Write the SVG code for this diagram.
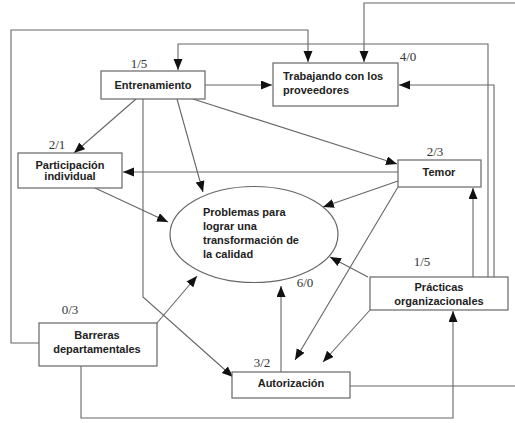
<svg xmlns="http://www.w3.org/2000/svg" width="515" height="423" viewBox="0 0 515 423">
<style>
.box{fill:#fff;stroke:#666;stroke-width:1.2}
.t{font-family:"Liberation Sans",Arial,sans-serif;font-weight:bold;font-size:11px;fill:#222}
.n{font-family:"Liberation Serif","Times New Roman",serif;font-size:13px;fill:#333}
.c path{fill:none;stroke:#666;stroke-width:1.1}
</style>
<defs>
<marker id="a" markerUnits="userSpaceOnUse" markerWidth="12" markerHeight="10" refX="11" refY="4.5" orient="auto">
<path d="M0,0 L11,4.5 L0,9 Z" fill="#111"/>
</marker>
</defs>
<rect width="515" height="423" fill="#fff"/>
<g class="c">
<path d="M39,343 H11 V30 H308 V62" marker-end="url(#a)"/>
<path d="M488,277 V44 H178 V70" marker-end="url(#a)"/>
<path d="M494,277 V85 H399" marker-end="url(#a)"/>
<path d="M515,3 H364 V62" marker-end="url(#a)"/>
<path d="M205,85 H272" marker-end="url(#a)"/>
<path d="M136,99 L74,153" marker-end="url(#a)"/>
<path d="M143,99 V297 L233,377" marker-end="url(#a)"/>
<path d="M177,99 L203,192" marker-end="url(#a)"/>
<path d="M193,99 L397,164" marker-end="url(#a)"/>
<path d="M398,172 H123" marker-end="url(#a)"/>
<path d="M398,181 L323,207" marker-end="url(#a)"/>
<path d="M398,187 L295,360" marker-end="url(#a)"/>
<path d="M95,188 L168,222" marker-end="url(#a)"/>
<path d="M157,323 L197,276" marker-end="url(#a)"/>
<path d="M81,366 V418 H453 V311" marker-end="url(#a)"/>
<path d="M368,277 L330,257" marker-end="url(#a)"/>
<path d="M370,310 L323,362" marker-end="url(#a)"/>
<path d="M473,277 V188" marker-end="url(#a)"/>
<path d="M281,372 V286" marker-end="url(#a)"/>
<path d="M350,386 H515"/>
</g>
<g id="entrenamiento">
<rect class="box" x="101" y="71" width="104" height="28"/>
<text class="t" x="153" y="89" text-anchor="middle">Entrenamiento</text>
<text class="n" x="139" y="68" text-anchor="middle">1/5</text>
</g>
<g id="trabajando">
<rect class="box" x="273" y="63" width="125" height="43"/>
<text class="t" x="283" y="80">Trabajando con los</text>
<text class="t" x="283" y="94">proveedores</text>
<text class="n" x="408" y="61" text-anchor="middle">4/0</text>
</g>
<g id="participacion">
<rect class="box" x="18" y="153" width="104" height="35"/>
<text class="t" x="70" y="169" text-anchor="middle">Participación</text>
<text class="t" x="70" y="180" text-anchor="middle">individual</text>
<text class="n" x="57" y="149" text-anchor="middle">2/1</text>
</g>
<g id="temor">
<rect class="box" x="398" y="160" width="83" height="27"/>
<text class="t" x="439" y="176" text-anchor="middle">Temor</text>
<text class="n" x="435" y="156" text-anchor="middle">2/3</text>
</g>
<g id="problemas">
<ellipse cx="254" cy="234.5" rx="84" ry="48" fill="#fff" stroke="#666" stroke-width="1.2"/>
<text class="t" x="203" y="216">Problemas para</text>
<text class="t" x="203" y="230">lograr una</text>
<text class="t" x="203" y="244">transformación de</text>
<text class="t" x="203" y="258">la calidad</text>
</g>
<g id="barreras">
<rect class="box" x="39" y="323" width="118" height="43"/>
<text class="t" x="97" y="339" text-anchor="middle">Barreras</text>
<text class="t" x="97" y="353" text-anchor="middle">departamentales</text>
<text class="n" x="70" y="314" text-anchor="middle">0/3</text>
</g>
<g id="practicas">
<rect class="box" x="370" y="277" width="138" height="33"/>
<text class="t" x="439" y="291" text-anchor="middle">Prácticas</text>
<text class="t" x="439" y="305" text-anchor="middle">organizacionales</text>
<text class="n" x="422" y="266" text-anchor="middle">1/5</text>
</g>
<g id="autorizacion">
<rect class="box" x="232" y="372" width="118" height="26"/>
<text class="t" x="291" y="387" text-anchor="middle">Autorización</text>
<text class="n" x="262" y="367" text-anchor="middle">3/2</text>
<text class="n" x="305" y="287" text-anchor="middle">6/0</text>
</g>
</svg>
